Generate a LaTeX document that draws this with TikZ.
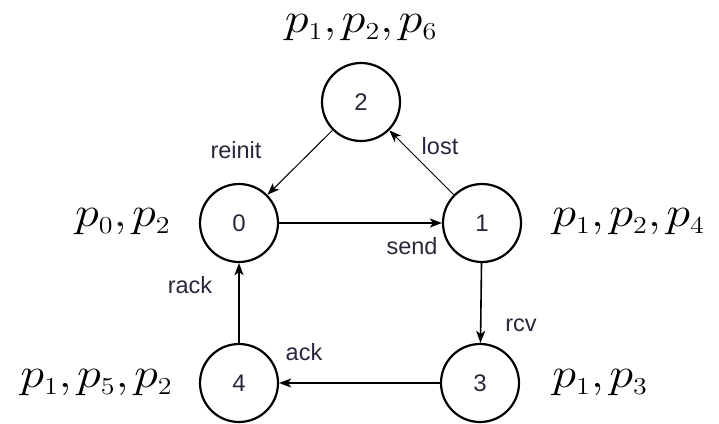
\documentclass[tikz,border=0pt]{standalone}
\usepackage{fontspec}
\setsansfont{Liberation Sans}
\DeclareMathSizes{24.88}{24.88}{14.4}{12}
\usetikzlibrary{arrows.meta}
\definecolor{lbl}{RGB}{40,40,60}
\tikzset{
  state/.style={circle,draw=black,line width=2.2pt,minimum size=78pt,inner sep=0pt,
    font=\sffamily\fontsize{24}{28}\selectfont,text=lbl},
  edge/.style={line width=1.6pt,-{Stealth[length=12pt,width=9pt,inset=3pt]}},
  thinedge/.style={line width=1pt,-{Stealth[length=12pt,width=9pt,inset=3pt]}},
  elbl/.style={font=\sffamily\fontsize{23.5}{28}\selectfont,text=lbl,inner sep=0pt},
  plbl/.style={font=\fontsize{24.88}{30}\selectfont,inner sep=0pt,scale=1.69,xscale=1.15,transform shape},
}
\newcommand{\cm}{{,}\mkern2mu}
\begin{document}
\begin{tikzpicture}[x=1pt,y=-1pt]
\useasboundingbox (0,0) rectangle (719,423);
\node[state] (n2) at (361,102) {2};
\node[state] (n0) at (239,223) {0};
\node[state] (n1) at (482,223) {1};
\node[state] (n4) at (239,383) {4};
\node[state] (n3) at (480,383) {3};

\draw[thinedge] (n2) -- (n0);
\draw[thinedge] (n1) -- (n2);
\draw[edge] (n0) -- (n1);
\draw[edge] (n1) -- (n3);
\draw[edge] (n3) -- (n4);
\draw[edge] (n4) -- (n0);

\node[elbl] (lreinit) at (236,150) {reinit};
\node[elbl] (llost) at (440,146) {lost};
\node[elbl] (lsend) at (412,246) {send};
\node[elbl] (lrcv) at (521,325) {rcv};
\node[elbl] (lrack) at (190,285) {rack};
\node[elbl] (lack) at (304,352) {ack};

\node[plbl] (p2) at (361,28) {$p_1\cm p_2\cm p_6$};
\node[plbl,anchor=east] (p0) at (171,222) {$p_0\cm p_2$};
\node[plbl,anchor=west] (p1) at (552,222) {$p_1\cm p_2\cm p_4$};
\node[plbl,anchor=west] (p3) at (552,383) {$p_1\cm p_3$};
\node[plbl,anchor=east] (p4) at (173,383) {$p_1\cm p_5\cm p_2$};
\end{tikzpicture}
\end{document}
